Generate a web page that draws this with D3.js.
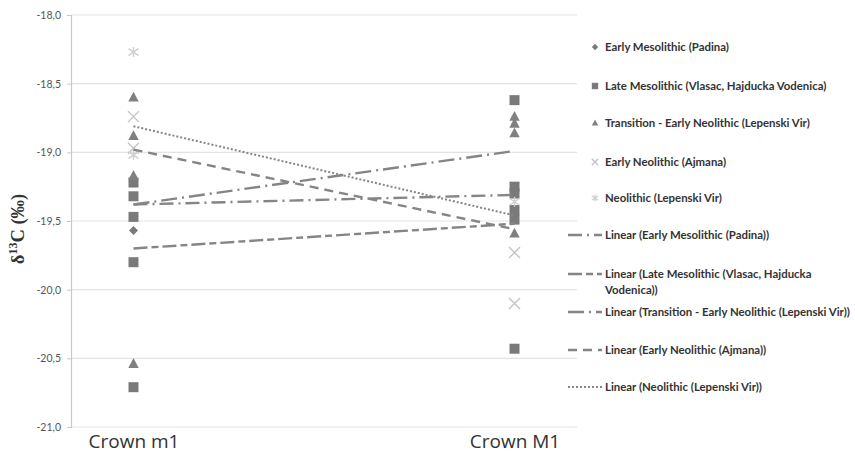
<!DOCTYPE html>
<html>
<head>
<meta charset="utf-8">
<script src="https://cdn.jsdelivr.net/npm/d3@7"></script>
<style>
  html, body { margin: 0; padding: 0; background: #fff; }
  svg { display: block; }
</style>
</head>
<body>
<svg id="chart" width="855" height="459"></svg>
<script>
// Tooth crown categories on the x axis
const categories = ["Crown m1", "Crown M1"];

// δ13C values per group, one list per crown
const seriesNames = [
  "Early Mesolithic (Padina)",
  "Late Mesolithic (Vlasac, Hajducka Vodenica)",
  "Transition - Early Neolithic (Lepenski Vir)",
  "Early Neolithic (Ajmana)",
  "Neolithic (Lepenski Vir)"
];
const earlyMesolithicM1a = [-19.57];
const earlyMesolithicM1b = [-19.30];
const lateMesolithicM1a = [-19.22, -19.32, -19.47, -19.80, -20.71];
const lateMesolithicM1b = [-18.62, -19.25, -19.30, -19.42, -19.49, -20.43];
const transitionM1a = [-18.60, -18.88, -19.17, -20.54];
const transitionM1b = [-18.74, -18.79, -18.86, -19.59];
const earlyNeolithicM1a = [-18.74, -18.97];
const earlyNeolithicM1b = [-19.73, -20.10];
const neolithicM1a = [-18.27, -19.02];
const neolithicM1b = [-19.36];

// Linear trend values at each crown
const trendAtM1a = [-19.38, -19.70, -19.38, -18.98, -18.81];
const trendAtM1b = [-19.31, -19.52, -18.99, -19.56, -19.46];

// Y axis ticks
const yTicks = [-18.0, -18.5, -19.0, -19.5, -20.0, -20.5, -21.0];

const seriesValues = [
  [earlyMesolithicM1a, earlyMesolithicM1b],
  [lateMesolithicM1a, lateMesolithicM1b],
  [transitionM1a, transitionM1b],
  [earlyNeolithicM1a, earlyNeolithicM1b],
  [neolithicM1a, neolithicM1b]
];

const markerStyle = [
  { type: "diamond", color: "#7a7a7a" },
  { type: "square", color: "#7a7a7a" },
  { type: "triangle", color: "#808080" },
  { type: "cross", color: "#c4c4c4" },
  { type: "star", color: "#cfcfcf" }
];
const lineDash = ["14,5,2,5", "14,4,7,4", "16,5,2,5", "9,6", "2,2"];
const lineWidth = [2.4, 2.4, 2.4, 2.4, 2];

const svg = d3.select("#chart");
const plotLeft = 71, plotRight = 577, plotTop = 15, plotBottom = 427;

const x = d3.scalePoint().domain(categories).range([plotLeft, plotRight]).padding(0.164);
const y = d3.scaleLinear().domain([-21, -18]).range([plotBottom, plotTop]);

// Gridlines
svg.append("g")
  .selectAll("line")
  .data(yTicks)
  .join("line")
  .attr("x1", plotLeft).attr("x2", plotRight)
  .attr("y1", d => y(d)).attr("y2", d => y(d))
  .attr("stroke", "#e3e3e3").attr("stroke-width", 1.2);

// Y axis
const yAxis = d3.axisLeft(y)
  .tickValues(yTicks)
  .tickSize(4)
  .tickPadding(6)
  .tickFormat(d => d3.format(".1f")(d).replace(".", ",").replace("−", "-"));
const gy = svg.append("g").attr("transform", `translate(${plotLeft},0)`).call(yAxis);
gy.select(".domain").attr("stroke", "#c8c8c8").attr("stroke-width", 1.2);
gy.selectAll(".tick line").attr("stroke", "#c8c8c8");
gy.selectAll(".tick text")
  .attr("fill", "#555")
  .style("font-family", "Lato, 'Open Sans', sans-serif")
  .style("font-size", "10.5px");

// X axis labels
const xAxis = d3.axisBottom(x).tickSize(0).tickPadding(8);
const gx = svg.append("g").attr("transform", `translate(0,${plotBottom})`).call(xAxis);
gx.select(".domain").remove();
gx.selectAll(".tick text")
  .attr("fill", "#333")
  .style("font-family", "'Open Sans', sans-serif")
  .style("font-size", "19px");

// Y axis title
svg.append("text")
  .attr("transform", `translate(24,${(plotTop + plotBottom) / 2 + 8}) rotate(-90)`)
  .attr("text-anchor", "middle")
  .attr("fill", "#333")
  .style("font-family", "'Liberation Serif', serif")
  .style("font-size", "18.5px")
  .style("font-weight", "bold")
  .html("δ<tspan dy='-7' font-size='12'>13</tspan><tspan dy='7'>C (‰)</tspan>");

// Marker drawing
function drawMarker(g, type, color, s) {
  if (type === "diamond") {
    g.append("path").attr("d", `M0,${-s}L${s},0L0,${s}L${-s},0Z`).attr("fill", color);
  } else if (type === "square") {
    g.append("rect").attr("x", -s).attr("y", -s).attr("width", 2 * s).attr("height", 2 * s).attr("fill", color);
  } else if (type === "triangle") {
    g.append("path").attr("d", `M0,${-s * 1.1}L${s},${s * 0.8}L${-s},${s * 0.8}Z`).attr("fill", color);
  } else if (type === "cross") {
    g.append("path").attr("d", `M${-s},${-s}L${s},${s}M${-s},${s}L${s},${-s}`)
      .attr("stroke", color).attr("stroke-width", 1.4).attr("fill", "none");
  } else if (type === "star") {
    g.append("path").attr("d", `M${-s},${-s * 0.7}L${s},${s * 0.7}M${-s},${s * 0.7}L${s},${-s * 0.7}M0,${-s}L0,${s}`)
      .attr("stroke", color).attr("stroke-width", 1.4).attr("fill", "none");
  }
}
const markerSize = { diamond: 4.5, square: 5, triangle: 5.2, cross: 5.5, star: 5 };

// Points
const pointsLayer = svg.append("g");
seriesValues.forEach((cols, si) => {
  const st = markerStyle[si];
  cols.forEach((vals, ci) => {
    vals.forEach(v => {
      const g = pointsLayer.append("g")
        .attr("transform", `translate(${x(categories[ci])},${y(v)})`);
      drawMarker(g, st.type, st.color, markerSize[st.type]);
    });
  });
});

// Trend lines
const line = d3.line().x(d => x(d[0])).y(d => y(d[1]));
const trendLayer = svg.append("g");
seriesNames.forEach((n, si) => {
  trendLayer.append("path")
    .attr("d", line([[categories[0], trendAtM1a[si]], [categories[1], trendAtM1b[si]]]))
    .attr("fill", "none")
    .attr("stroke", "#858585")
    .attr("stroke-width", lineWidth[si])
    .attr("stroke-dasharray", lineDash[si]);
});

// Legend
const legendFont = "Lato, 'Open Sans', sans-serif";
const legendSize = "11.4px";
const legend = svg.append("g");
const markerRows = [47, 86, 123, 162, 198];
seriesNames.forEach((n, i) => {
  const g = legend.append("g").attr("transform", `translate(595,${markerRows[i]})`);
  drawMarker(g, markerStyle[i].type, markerStyle[i].color, 3.2);
  legend.append("text")
    .attr("x", 605).attr("y", markerRows[i] + 4)
    .attr("fill", "#333")
    .style("font-family", legendFont)
    .style("font-size", legendSize)
    .style("font-weight", "bold")
    .text(n);
});
const lineRows = [235, 274, 312, 350, 387];
seriesNames.forEach((n, i) => {
  legend.append("line")
    .attr("x1", 568).attr("x2", 602)
    .attr("y1", lineRows[i]).attr("y2", lineRows[i])
    .attr("stroke", "#858585")
    .attr("stroke-width", lineWidth[i])
    .attr("stroke-dasharray", lineDash[i]);
  const t = legend.append("text")
    .attr("x", 605).attr("y", lineRows[i] + 4)
    .attr("fill", "#333")
    .style("font-family", legendFont)
    .style("font-size", legendSize)
    .style("font-weight", "bold");
  if (i === 1) {
    t.append("tspan").attr("x", 605).text("Linear (Late Mesolithic (Vlasac, Hajducka");
    t.append("tspan").attr("x", 605).attr("dy", 16).text("Vodenica))");
  } else {
    t.text(`Linear (${n})`);
  }
});
</script>
</body>
</html>
